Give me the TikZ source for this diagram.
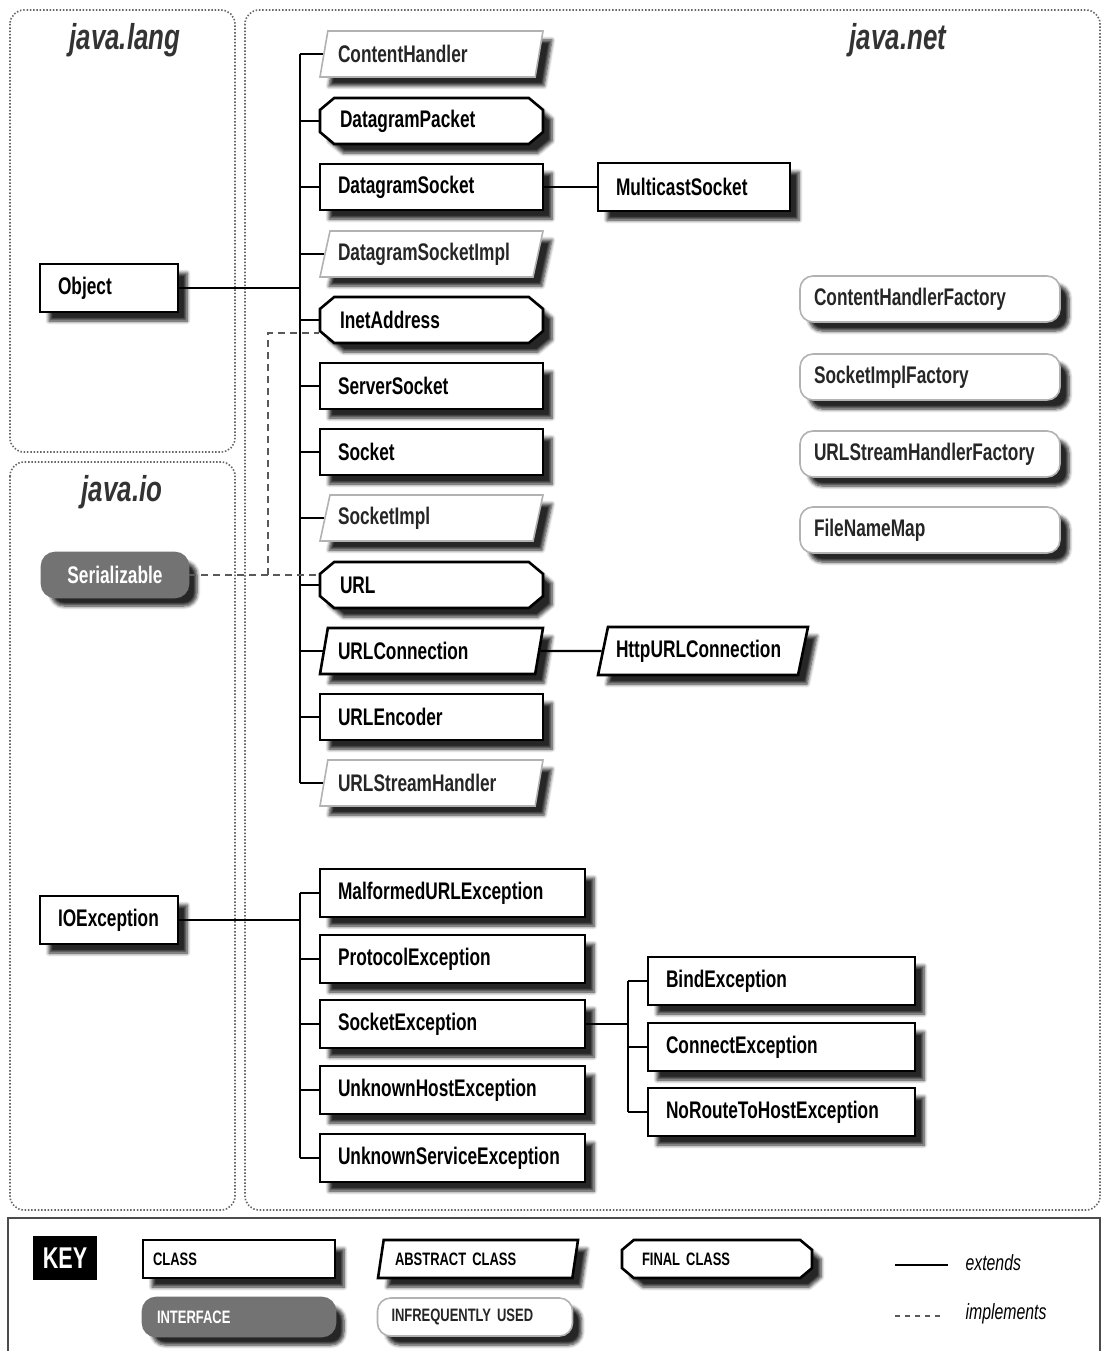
\documentclass[tikz,border=0pt]{standalone}
\usepackage{fontspec}
\setmainfont{Liberation Sans}[FakeStretch=0.72]
\usetikzlibrary{shapes.geometric,shapes.misc,shadows.blur}

\begin{document}
\begin{tikzpicture}[x=1pt,y=-1pt,
    base/.style={font=\fontsize{24}{26}\selectfont\bfseries, minimum height=46pt, inner ysep=0pt,
      align=left, fill=white, line width=2.6pt,
      blur shadow={shadow xshift=9pt, shadow yshift=-9pt, shadow blur steps=6, shadow opacity=85, shadow blur radius=3.5pt}},
    cls/.style={base, draw, rectangle, inner xsep=18pt},
    abscls/.style={base, draw, trapezium, trapezium left angle=66, trapezium right angle=114,
      trapezium stretches body, inner xsep=8pt},
    fincls/.style={base, draw, chamfered rectangle, chamfered rectangle xsep=10pt,
      chamfered rectangle angle=50, inner xsep=10pt},
    iface/.style={base, rectangle, rounded corners=13pt, inner xsep=14pt},
    rare/.style={draw=black!30, line width=1.6pt, text=black!85},
    gray/.style={fill=black!55, draw=black!55, text=white},
    keytxt/.style={font=\fontsize{18}{20}\selectfont\bfseries, minimum height=38pt, inner ysep=0pt},
    pkg/.style={draw=black!60, line width=1.6pt, dash pattern=on 1.5pt off 1.8pt, rounded corners=14pt},
    title/.style={font=\fontsize{36}{38}\selectfont\bfseries\itshape, text=black!80},
    link/.style={line width=2.4pt},
    impl/.style={line width=2pt, black!65, dash pattern=on 7pt off 5pt}]
    \useasboundingbox (0,0) rectangle (1104,1351);

    % packages
    \draw[pkg] (10,10) rectangle (235,452);
    \draw[pkg] (10,462) rectangle (235,1210);
    \draw[pkg] (245,10) rectangle (1100,1210);
    \draw[black!70, line width=1.6pt] (8,1218) rectangle (1100,1362);
    \node[title] (tlang) at (125,40) {java.lang};
    \node[title] (tio) at (122,492) {java.io};
    \node[title] (tnet) at (898,40) {java.net};

    % java.lang / java.io
    \node[cls, minimum width=138pt, minimum height=48pt, text width=102pt] (obj) at (109,288) {Object};
    \node[cls, minimum width=138pt, minimum height=48pt, text width=102pt] (ioe) at (109,920) {IOException};
    \node[iface, gray, minimum width=146pt, minimum height=44pt, text width=118pt, align=center] (ser) at (115,575) {Serializable};

    % java.net
    \node[abscls, rare, minimum width=223pt, text width=187pt] (ch) at (431.5,54) {ContentHandler};
    \node[fincls, minimum width=223pt, text width=183pt] (dp) at (431.5,121) {DatagramPacket};
    \node[cls, minimum width=223pt, text width=187pt] (ds) at (431.5,187) {DatagramSocket};
    \node[abscls, rare, minimum width=223pt, text width=187pt] (dsi) at (431.5,254) {DatagramSocketImpl};
    \node[fincls, minimum width=223pt, text width=183pt] (ia) at (431.5,320) {InetAddress};
    \node[cls, minimum width=223pt, text width=187pt] (ss) at (431.5,386) {ServerSocket};
    \node[cls, minimum width=223pt, text width=187pt] (sk) at (431.5,452) {Socket};
    \node[abscls, rare, minimum width=223pt, text width=187pt] (ski) at (431.5,518) {SocketImpl};
    \node[fincls, minimum width=223pt, text width=183pt] (url) at (431.5,585) {URL};
    \node[abscls, minimum width=223pt, text width=187pt] (uc) at (431.5,651) {URLConnection};
    \node[cls, minimum width=223pt, text width=187pt] (ue) at (431.5,717) {URLEncoder};
    \node[abscls, rare, minimum width=223pt, text width=187pt] (ush) at (431.5,783) {URLStreamHandler};

    \node[cls, minimum width=192pt, minimum height=48pt, text width=156pt] (mcs) at (694,187) {MulticastSocket};
    \node[abscls, minimum width=210pt, minimum height=48pt, text width=174pt] (http) at (703,651) {HttpURLConnection};

    \node[iface, rare, minimum width=260pt, text width=232pt] (chf) at (930,299) {ContentHandlerFactory};
    \node[iface, rare, minimum width=260pt, text width=232pt] (sif) at (930,377) {SocketImplFactory};
    \node[iface, rare, minimum width=260pt, text width=232pt] (ushf) at (930,454) {URLStreamHandlerFactory};
    \node[iface, rare, minimum width=260pt, text width=232pt] (fnm) at (930,530) {FileNameMap};

    \node[cls, minimum width=265pt, minimum height=48pt, text width=229pt] (mue) at (452.5,893) {MalformedURLException};
    \node[cls, minimum width=265pt, minimum height=48pt, text width=229pt] (pe) at (452.5,959) {ProtocolException};
    \node[cls, minimum width=265pt, minimum height=48pt, text width=229pt] (se) at (452.5,1024) {SocketException};
    \node[cls, minimum width=265pt, minimum height=48pt, text width=229pt] (uhe) at (452.5,1090) {UnknownHostException};
    \node[cls, minimum width=265pt, minimum height=48pt, text width=229pt] (use) at (452.5,1158) {UnknownServiceException};
    \node[cls, minimum width=267pt, minimum height=48pt, text width=231pt] (be) at (781.5,981) {BindException};
    \node[cls, minimum width=267pt, minimum height=48pt, text width=231pt] (ce) at (781.5,1047) {ConnectException};
    \node[cls, minimum width=267pt, minimum height=48pt, text width=231pt] (nre) at (781.5,1112) {NoRouteToHostException};

    % extends
    \coordinate (jn) at (300,288);
    \draw[link] (obj.east) -- (jn);
    \draw[link] (jn |- ch.west) -- (jn |- ush.west);
    \foreach \n in {ch,dp,ds,dsi,ia,ss,sk,ski,url,uc,ue,ush}
        \draw[link] (jn |- \n.west) -- (\n.west);
    \draw[link] (ds.east) -- (mcs.west);
    \draw[link] (uc.east) -- (http.west);

    \coordinate (jx) at (300,920);
    \draw[link] (ioe.east) -- (jx);
    \draw[link] (jx |- mue.west) -- (jx |- use.west);
    \foreach \n in {mue,pe,se,uhe,use}
        \draw[link] (jx |- \n.west) -- (\n.west);
    \coordinate (jy) at (628,1024);
    \draw[link] (se.east) -- (jy);
    \draw[link] (jy |- be.west) -- (jy |- nre.west);
    \foreach \n in {be,ce,nre}
        \draw[link] (jy |- \n.west) -- (\n.west);

    % implements
    \coordinate (bend) at (268,575);
    \draw[impl] (ser.east) -- (url.west |- ser.east);
    \draw[impl] (bend) |- ([yshift=-13pt]ia.west);

    % key
    \node[fill=black, text=white, font=\fontsize{30}{30}\selectfont\bfseries, minimum width=64pt, minimum height=44pt, inner sep=0pt] (key) at (65,1258) {KEY};
    \node[cls, keytxt, minimum width=192pt, inner xsep=10pt, text width=172pt] (kc) at (239,1259) {CLASS};
    \node[abscls, keytxt, minimum width=200pt, text width=166pt] (ka) at (478,1259) {ABSTRACT CLASS};
    \node[fincls, keytxt, minimum width=190pt, text width=150pt] (kf) at (717,1259) {FINAL CLASS};
    \node[iface, gray, keytxt, minimum width=192pt, text width=164pt] (ki) at (239,1317) {INTERFACE};
    \node[iface, rare, keytxt, minimum width=195pt, text width=167pt] (kr) at (475,1317) {INFREQUENTLY USED};
    \coordinate (e0) at (895,1265);
    \coordinate (e1) at (948,1265);
    \draw[link] (e0) -- (e1);
    \node[font=\fontsize{22}{22}\selectfont\itshape, anchor=west] (kext) at (962,1263) {extends};
    \coordinate (i0) at (895,1316);
    \coordinate (i1) at (942,1316);
    \draw[impl, dash pattern=on 5pt off 5pt] (i0) -- (i1);
    \node[font=\fontsize{22}{22}\selectfont\itshape, anchor=west] (kimp) at (962,1314) {implements};
\end{tikzpicture}
\end{document}
